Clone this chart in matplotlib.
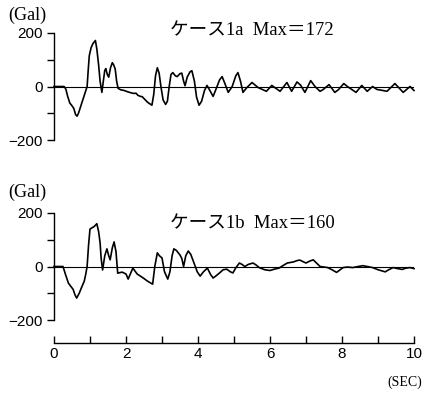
import matplotlib
matplotlib.use("Agg")
import matplotlib.pyplot as plt

# acceleration records (time in sec, acceleration in Gal)
t_1a = [0.0, 0.28, 0.33, 0.38, 0.44, 0.5, 0.55, 0.6, 0.64, 0.68, 0.74, 0.8, 0.86, 0.92,
        0.95, 0.98, 1.03, 1.08, 1.15, 1.19, 1.24, 1.28, 1.33, 1.37, 1.41, 1.44, 1.48, 1.52,
        1.57, 1.62, 1.66, 1.7, 1.74, 1.78, 1.85, 1.95, 2.05, 2.15, 2.22, 2.28, 2.33, 2.4,
        2.45, 2.52, 2.6, 2.72, 2.77, 2.82, 2.87, 2.92, 2.97, 3.03, 3.1, 3.15, 3.2, 3.25,
        3.3, 3.37, 3.42, 3.5, 3.55, 3.6, 3.64, 3.7, 3.78, 3.83, 3.9, 3.96, 4.03, 4.1,
        4.18, 4.25, 4.33, 4.42, 4.5, 4.6, 4.67, 4.75, 4.84, 4.95, 5.05, 5.11, 5.18, 5.25,
        5.35, 5.5, 5.67, 5.9, 6.05, 6.28, 6.47, 6.6, 6.75, 6.85, 6.97, 7.13, 7.25, 7.39,
        7.47, 7.64, 7.8, 7.9, 8.05, 8.15, 8.39, 8.55, 8.7, 8.85, 8.97, 9.1, 9.25, 9.47,
        9.7, 9.89, 10.0]
acc_1a = [0, 0, -10, -37, -62, -72, -82, -105, -111, -100, -75, -50, -25, 0,
          60, 115, 145, 160, 172, 140, 80, 20, -22, 20, 60, 67, 45, 35,
          70, 89, 80, 65, 20, -7, -12, -15, -20, -24, -26, -25, -33, -37,
          -38, -48, -59, -70, -30, 40, 70, 50, 0, -50, -67, -55, 0, 45,
          52, 40, 37, 48, 50, 20, 3, 35, 55, 59, 20, -40, -70, -55,
          -15, 4, -15, -37, -10, 25, 37, 10, -22, 0, 40, 52, 20, -22,
          -5, 15, -4, -18, 4, -18, 15, -18, 17, 5, -22, 22, 0, -18,
          -12, 7, -22, -12, 11, 0, -22, 4, -18, 0, -11, -14, -18, 11,
          -22, 0, -15]

t_1b = [0.0, 0.25, 0.32, 0.4, 0.47, 0.53, 0.58, 0.63, 0.7, 0.77, 0.84, 0.88, 0.92, 0.96,
        1.0, 1.06, 1.12, 1.19, 1.24, 1.28, 1.31, 1.35, 1.41, 1.47, 1.52, 1.56, 1.62, 1.67,
        1.7, 1.72, 1.77, 1.89, 2.0, 2.06, 2.19, 2.31, 2.48, 2.6, 2.74, 2.8, 2.87, 2.93,
        3.0, 3.07, 3.16, 3.22, 3.28, 3.33, 3.4, 3.5, 3.55, 3.6, 3.66, 3.73, 3.8, 3.9,
        3.98, 4.06, 4.15, 4.26, 4.35, 4.42, 4.5, 4.6, 4.7, 4.8, 4.9, 4.97, 5.05, 5.15,
        5.22, 5.3, 5.4, 5.53, 5.62, 5.7, 5.85, 6.0, 6.12, 6.25, 6.38, 6.48, 6.65, 6.75,
        6.83, 6.92, 7.0, 7.1, 7.2, 7.3, 7.39, 7.5, 7.6, 7.72, 7.85, 7.95, 8.03, 8.15,
        8.3, 8.45, 8.58, 8.7, 8.85, 9.0, 9.2, 9.3, 9.42, 9.55, 9.67, 9.78, 9.89, 10.0]
acc_1b = [0, 0, -30, -62, -75, -85, -105, -118, -100, -77, -55, -30, 0, 80,
          140, 145, 150, 160, 130, 89, 30, -13, 40, 66, 40, 25, 70, 92,
          70, 58, -25, -21, -28, -47, -6, -28, -43, -55, -66, 0, 51, 40,
          32, -20, -47, -20, 40, 66, 60, 43, 30, 0, 40, 58, 45, 9,
          -20, -36, -20, -6, -30, -43, -35, -24, -12, -10, -20, -24, -5, 13,
          8, 0, 8, 13, 5, -4, -12, -15, -10, -6, 5, 13, 17, 22,
          24, 18, 13, 20, 25, 12, 0, -2, -4, -12, -22, -12, -4, -2,
          -4, 0, 3, 0, -4, -12, -20, -12, -4, -8, -11, -6, -4, -8]

titles = ["ケース1a  Max＝172", "ケース1b  Max＝160"]
y_ticks = [-200, 0, 200]
y_minor = [-100, 100]
x_ticks = [0, 2, 4, 6, 8, 10]
x_minor = [1, 3, 5, 7, 9]

W, H = 423, 396
fig = plt.figure(figsize=(W / 100, H / 100), dpi=100)
fig.patch.set_facecolor("white")

serif = ["Liberation Serif", "Noto Sans CJK JP"]
tick_font = {"family": "Liberation Sans", "size": 11}


def px_box(x0, y_top, x1, y_bot):
    return [x0 / W, 1 - y_bot / H, (x1 - x0) / W, (y_bot - y_top) / H]


def setup(ax, t, acc):
    ax.plot(t, acc, color="black", lw=1.2, clip_on=False, solid_joinstyle="round")
    ax.axhline(0, color="black", lw=0.8)
    ax.set_xlim(0, 10)
    ax.set_ylim(-200, 200)
    for s in ["top", "right", "bottom"]:
        ax.spines[s].set_visible(False)
    ax.spines["left"].set_linewidth(1.0)
    ax.set_yticks(y_ticks)
    ax.set_yticks(y_minor, minor=True)
    ax.tick_params(axis="y", which="both", length=5, width=1.0, pad=3)
    for lab in ax.get_yticklabels():
        lab.set_fontfamily(tick_font["family"])
        lab.set_fontsize(tick_font["size"])


ax1 = fig.add_axes(px_box(54, 33, 414, 140))
setup(ax1, t_1a, acc_1a)
ax1.set_xticks([])

ax2 = fig.add_axes(px_box(54, 213, 414, 320))
setup(ax2, t_1b, acc_1b)
ax2.spines["bottom"].set_visible(True)
ax2.spines["bottom"].set_position(("outward", 16.5))
ax2.spines["bottom"].set_linewidth(1.0)
ax2.set_xticks(x_ticks)
ax2.set_xticks(x_minor, minor=True)
ax2.tick_params(axis="x", which="both", direction="in", length=5, width=1.0, pad=3)
for lab in ax2.get_xticklabels():
    lab.set_fontfamily(tick_font["family"])
    lab.set_fontsize(tick_font["size"])

# unit labels and case titles
fig.text(8 / W, 1 - 15 / H, "(Gal)", family=serif, fontsize=13, va="center", ha="left")
fig.text(8 / W, 1 - 192 / H, "(Gal)", family=serif, fontsize=13, va="center", ha="left")
fig.text(170 / W, 1 - 31 / H, titles[0], family=serif, fontsize=13.4, va="center", ha="left")
fig.text(170 / W, 1 - 224 / H, titles[1], family=serif, fontsize=13.4, va="center", ha="left")
fig.text(422 / W, 1 - 382 / H, "(SEC)", family=serif, fontsize=10, va="center", ha="right")

fig.savefig("out.png", dpi=100)
